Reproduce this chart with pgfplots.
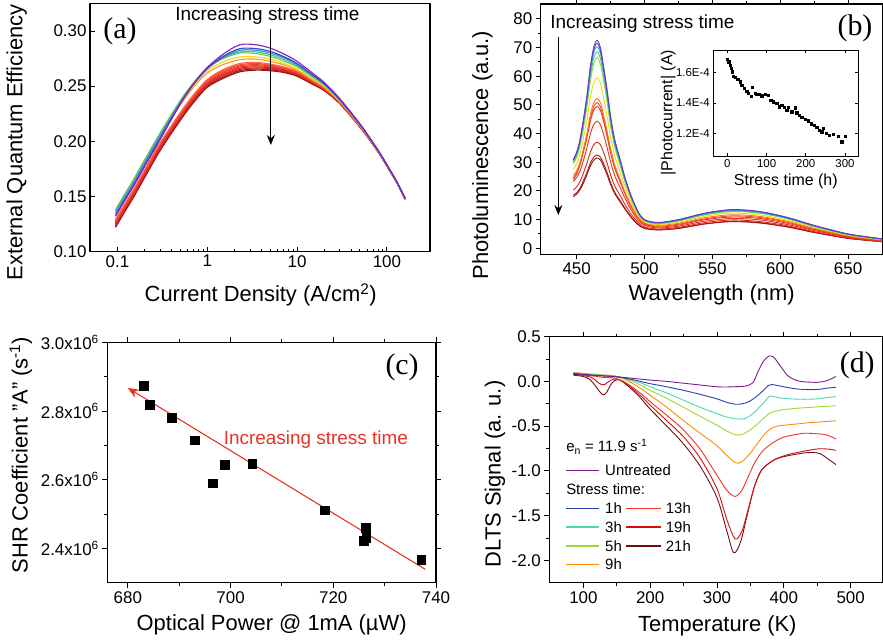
\documentclass[border=0pt]{standalone}
\usepackage{fontspec}
\setmainfont{Liberation Sans}
\newfontfamily\timesfont{Liberation Serif}
\usepackage{pgfplots}
\usepackage{pgfplotstable}
\pgfplotsset{compat=1.18}
\usetikzlibrary{arrows.meta}
\newcommand{\fs}[1]{\fontsize{#1}{#1}\selectfont}
% panel (a) colours
\definecolor{a1}{rgb}{0.55,0.12,0.75}
\definecolor{a2}{rgb}{0.15,0.30,0.78}
\definecolor{a3}{rgb}{0.20,0.55,0.85}
\definecolor{a4}{rgb}{0.30,0.75,0.60}
\definecolor{a5}{rgb}{0.45,0.80,0.25}
\definecolor{a6}{rgb}{0.95,0.85,0.10}
\definecolor{a7}{rgb}{1.00,0.60,0.10}
\definecolor{r0}{rgb}{1.00,0.38,0.28}
\definecolor{r1}{rgb}{0.96,0.30,0.20}
\definecolor{r2}{rgb}{0.93,0.25,0.18}
\definecolor{r3}{rgb}{0.90,0.20,0.15}
\definecolor{r4}{rgb}{0.86,0.17,0.13}
\definecolor{r5}{rgb}{0.80,0.14,0.12}
\definecolor{r6}{rgb}{0.70,0.10,0.10}
\definecolor{r7}{rgb}{0.55,0.08,0.08}
% panel (b) colours
\definecolor{b1}{rgb}{0.45,0.20,0.75}
\definecolor{b2}{rgb}{0.20,0.35,0.80}
\definecolor{b3}{rgb}{0.20,0.70,0.85}
\definecolor{b4}{rgb}{0.30,0.80,0.50}
\definecolor{b5}{rgb}{0.55,0.85,0.20}
\definecolor{b6}{rgb}{0.95,0.85,0.05}
\definecolor{b7}{rgb}{1.00,0.45,0.10}
\definecolor{b8}{rgb}{0.95,0.30,0.15}
\definecolor{b9}{rgb}{0.93,0.22,0.12}
\definecolor{b10}{rgb}{0.90,0.20,0.12}
\definecolor{b11}{rgb}{0.85,0.15,0.10}
\definecolor{b12}{rgb}{0.70,0.10,0.08}
\definecolor{b13}{rgb}{0.55,0.08,0.06}
% panel (d) colours
\definecolor{dU}{rgb}{0.50,0.10,0.55}
\definecolor{dA}{rgb}{0.15,0.25,0.70}
\definecolor{dB}{rgb}{0.30,0.85,0.65}
\definecolor{dC}{rgb}{0.60,0.85,0.20}
\definecolor{dD}{rgb}{1.00,0.55,0.00}
\definecolor{dE}{rgb}{0.95,0.20,0.15}
\definecolor{dF}{rgb}{0.85,0.05,0.05}
\definecolor{dG}{rgb}{0.45,0.05,0.05}
\definecolor{cred}{rgb}{0.90,0.20,0.15}

\pgfplotstableread{
J c1 c2 c3 c4 c5 c6 c7 r0 r1 r2 r3 r4 r5 r6 r7
0.095 .132 .133 .135 .137 .138 .138 .137 .129 .128 .127 .126 .125 .124 .123 .122
0.12 .146 .147 .149 .151 .152 .152 .151 .143 .142 .141 .140 .139 .138 .137 .136
0.15 .159 .160 .162 .164 .165 .165 .164 .156 .155 .154 .153 .152 .151 .150 .149
0.2 .177 .178 .180 .182 .183 .183 .182 .174 .173 .172 .171 .170 .169 .168 .167
0.3 .202 .203 .205 .207 .208 .207 .206 .199 .198 .197 .196 .195 .194 .193 .192
0.5 .234 .234 .235 .236 .237 .235 .233 .226 .225 .224 .223 .222 .221 .220 .219
0.7 .252 .2515 .252 .2525 .253 .251 .249 .242 .241 .240 .239 .238 .237 .236 .235
1 .267 .266 .266 .266 .2665 .264 .262 .256 .255 .254 .253 .252 .251 .250 .249
1.5 .279 .277 .276 .2755 .275 .272 .2695 .265 .2639 .2627 .2616 .2604 .2593 .2581 .257
2.3 .2875 .284 .2825 .281 .280 .2765 .274 .2705 .2694 .2684 .2673 .2662 .2652 .2641 .263
3.5 .2875 .284 .2825 .281 .2795 .2765 .2745 .2715 .2705 .2695 .2685 .2675 .2665 .2655 .2645
5 .2845 .2815 .280 .2785 .277 .2745 .2725 .270 .2691 .2683 .2674 .2666 .2657 .2648 .264
7 .2795 .277 .276 .2745 .273 .271 .2695 .2675 .2668 .2661 .2654 .2647 .2639 .2632 .2625
10 .2725 .2705 .2695 .2685 .2675 .2655 .2645 .2635 .2629 .2622 .2616 .2609 .2603 .2597 .259
15 .2615 .260 .2595 .2585 .258 .2565 .2555 .255 .2545 .254 .2535 .253 .2525 .252 .2515
20 .2535 .2525 .252 .2515 .251 .250 .2495 .2485 .2481 .2478 .2474 .2471 .2467 .2463 .246
30 .2385 .2378 .2375 .2373 .237 .2365 .236 .2355 .2353 .2351 .2349 .2347 .2344 .2342 .234
50 .216 .2155 .2153 .2152 .215 .2148 .2145 .214 .2139 .2137 .2136 .2134 .2133 .2132 .213
70 .199 .1987 .1985 .1984 .1983 .1982 .198 .1977 .1976 .1975 .1974 .1973 .1972 .1971 .197
85 .1885 .1882 .188 .188 .1879 .1878 .1877 .1875 .1874 .1874 .1873 .1872 .1872 .1871 .187
100 .179 .1787 .1786 .1785 .1785 .1784 .1783 .178 .1779 .1779 .1778 .1777 .1777 .1776 .1775
130 .163 .1628 .1627 .1627 .1627 .1626 .1626 .1625 .1624 .1624 .1623 .1622 .1622 .1621 .162
160 .148 .148 .148 .148 .148 .148 .148 .148 .1479 .1479 .1478 .1477 .1477 .1476 .1475
}\tabA

\pgfplotstableread{
L b1 b2 b3 b4 b5 b6 b7 b8 b9 b10 b11 b12 b13
447.5 31 30.8 30.5 30.1 29.4 27.6 25.4 24.6 24.0 23.3 20.3 18.6 18.0
450 33.5 33.3 33.0 32.4 31.7 29.5 27.0 26.3 25.8 24.7 21.4 19.4 18.9
452.5 38 37.7 37.3 36.6 35.7 33.0 30.0 29.5 29.0 27.0 23.3 21.0 20.4
455 45 44.5 44.0 43.1 41.9 38.5 34.7 34.2 33.6 30.7 26.3 23.6 22.8
457.5 53 52.4 51.7 50.5 49.1 44.7 39.9 39.2 38.4 34.9 29.6 26.4 25.6
460 63 62.2 61.2 59.8 58.0 52.3 46.3 45.2 44.1 39.7 33.4 29.6 28.6
462.5 70 69.0 68.0 66.2 64.3 57.6 50.7 49.3 48.1 43.1 36.0 31.7 30.7
465 72.5 71.5 70.3 68.5 66.5 59.5 52.3 50.8 49.5 44.3 37.0 32.5 31.5
467.5 70 69.0 67.9 66.2 64.2 57.6 50.8 49.3 48.1 43.1 36.1 31.8 30.8
470 63 62.2 61.2 59.7 58.0 52.2 46.2 44.9 43.9 39.4 33.2 29.4 28.4
472.5 55 54.3 53.5 52.2 50.7 45.8 40.7 39.7 38.8 35.0 29.6 26.3 25.5
475 46 45.4 44.9 43.8 42.6 38.8 34.7 33.9 33.2 30.1 25.6 23.0 22.3
478 38 37.6 37.1 36.3 35.4 32.3 29.1 28.5 27.9 25.4 21.8 19.6 19.1
482 31 30.7 30.3 29.6 29.0 26.6 24.1 23.6 23.1 21.2 18.4 16.7 16.2
486 24 23.8 23.5 23.0 22.5 20.9 19.2 18.8 18.5 17.1 15.0 13.7 13.4
490 18.5 18.3 18.1 17.7 17.4 16.3 15.1 14.8 14.5 13.5 12.0 11.1 10.8
495 13 12.9 12.8 12.5 12.3 11.7 11.0 10.8 10.6 9.9 9.1 8.5 8.3
500 10 9.9 9.8 9.7 9.5 9.2 8.8 8.6 8.4 8.0 7.4 7.1 6.9
510 9 8.9 8.8 8.7 8.6 8.3 8.0 7.7 7.4 7.1 6.7 6.5 6.4
525 10 9.9 9.8 9.6 9.5 9.1 8.7 8.4 8.1 7.7 7.3 7.0 6.9
545 12.3 12.2 12.05 11.8 11.7 11.2 10.7 10.3 10.0 9.5 9.0 8.6 8.5
565 13.5 13.4 13.2 13.0 12.8 12.3 11.7 11.3 10.9 10.4 9.9 9.45 9.3
585 12.8 12.7 12.5 12.3 12.2 11.6 11.1 10.75 10.4 9.9 9.3 8.96 8.8
605 10.8 10.7 10.6 10.4 10.3 9.8 9.4 9.1 8.75 8.3 7.9 7.56 7.45
625 8 7.9 7.8 7.7 7.6 7.3 7.0 6.7 6.5 6.2 5.8 5.6 5.5
650 5 4.95 4.9 4.8 4.75 4.55 4.35 4.2 4.05 3.85 3.65 3.5 3.45
675 3.3 3.27 3.2 3.2 3.1 3.0 2.9 2.8 2.7 2.5 2.4 2.3 2.3
}\tabB

\pgfplotsset{
  myaxis/.style={
    scale only axis, anchor=south west, clip=false,
    axis line style={line width=1.1pt},
    every tick/.style={line width=0.9pt, black},
    major tick length=5pt, minor tick length=3pt,
    tick align=outside,
    ticklabel style={font=\fs{17}},
    label style={font=\fs{22}},
    /pgf/number format/assume math mode=true,
  },
  crv/.style={line width=0.9pt, smooth},
  crva/.style={line width=1.15pt, smooth},
}

\begin{document}
\begin{tikzpicture}
\path[use as bounding box] (0,0) rectangle (883bp,641bp);

% ---------------- (a)
\begin{axis}[myaxis, at={(90bp,389.3bp)}, width=340bp, height=248.3bp,
  xmode=log, xmin=0.0494, xmax=302, ymin=0.10, ymax=0.325,
  xtick={0.1,1,10,100}, xticklabels={0.1,1,10,100},
  ytick={0.10,0.15,0.20,0.25,0.30}, yticklabels={0.10,0.15,0.20,0.25,0.30},
  tick align=inside, tick pos=left,
  xlabel={Current Density (A/cm\textsuperscript{2})},
  ylabel={External Quantum Efficiency},
  xlabel style={at={(axis description cs:0.502,-0.174)},anchor=center},
  ylabel style={at={(axis description cs:-0.2156,0.44)},anchor=center},
]
\addplot[crva, r7] table[x=J,y=r7] {\tabA};
\addplot[crva, r6] table[x=J,y=r6] {\tabA};
\addplot[crva, r5] table[x=J,y=r5] {\tabA};
\addplot[crva, r4] table[x=J,y=r4] {\tabA};
\addplot[crva, r3] table[x=J,y=r3] {\tabA};
\addplot[crva, r2] table[x=J,y=r2] {\tabA};
\addplot[crva, r1] table[x=J,y=r1] {\tabA};
\addplot[crva, r0] table[x=J,y=r0] {\tabA};
\addplot[crva, a7] table[x=J,y=c7] {\tabA};
\addplot[crva, a6] table[x=J,y=c6] {\tabA};
\addplot[crva, a5] table[x=J,y=c5] {\tabA};
\addplot[crva, a4] table[x=J,y=c4] {\tabA};
\addplot[crva, a3] table[x=J,y=c3] {\tabA};
\addplot[crva, a2] table[x=J,y=c2] {\tabA};
\addplot[crva, a1] table[x=J,y=c1] {\tabA};
\draw[line width=1.3pt, -{Stealth[length=10pt,width=8pt]}] (axis cs:5.1,0.3017) -- (axis cs:5.1,0.1967);
\node[font=\fs{19}] at (axis cs:4.68,0.3138) {Increasing stress time};
\node[font=\timesfont\fs{30}] at (axis cs:0.1066,0.2993) {(a)};
\end{axis}

% ---------------- (b)
\begin{axis}[myaxis, at={(540.7bp,386.7bp)}, width=342bp, height=250.3bp,
  xmin=423.5, xmax=675.5, ymin=-2.1, ymax=85.2,
  xtick={450,500,550,600,650}, minor x tick num=1,
  ytick={0,10,20,30,40,50,60,70,80}, minor y tick num=1,
  xlabel={Wavelength (nm)},
  ylabel={Photoluminescence (a.u.)},
  xlabel style={at={(axis description cs:0.5,-0.163)},anchor=center},
  ylabel style={at={(axis description cs:-0.170,0.397)},anchor=center},
]
\addplot[crv, b13] table[x=L,y=b13] {\tabB};
\addplot[crv, b12] table[x=L,y=b12] {\tabB};
\addplot[crv, b11] table[x=L,y=b11] {\tabB};
\addplot[crv, b10] table[x=L,y=b10] {\tabB};
\addplot[crv, b9] table[x=L,y=b9] {\tabB};
\addplot[crv, b8] table[x=L,y=b8] {\tabB};
\addplot[crv, b7] table[x=L,y=b7] {\tabB};
\addplot[crv, b6] table[x=L,y=b6] {\tabB};
\addplot[crv, b5] table[x=L,y=b5] {\tabB};
\addplot[crv, b4] table[x=L,y=b4] {\tabB};
\addplot[crv, b3] table[x=L,y=b3] {\tabB};
\addplot[crv, b2] table[x=L,y=b2] {\tabB};
\addplot[crv, b1] table[x=L,y=b1] {\tabB};
\draw[line width=1.3pt, -{Stealth[length=10pt,width=8pt]}] (axis cs:436.5,73.8) -- (axis cs:436.5,11.6);
\node[font=\fs{19}] at (axis cs:498.4,78.5) {Increasing stress time};
\node[font=\timesfont\fs{30}] at (axis cs:655.1,76.7) {(b)};
\end{axis}

% ---------------- inset of (b)
\begin{axis}[myaxis, at={(713.3bp,485bp)}, width=145bp, height=106bp,
  xmin=-36, xmax=334, ymin=1.05, ymax=1.75,
  axis line style={line width=0.8pt},
  every tick/.style={line width=0.7pt, black},
  major tick length=3pt, minor tick length=2pt,
  tick align=inside,
  xtick={0,100,200,300}, ytick={1.2,1.4,1.6},
  yticklabels={1.2E-4,1.4E-4,1.6E-4},
  ticklabel style={font=\fs{11.5}},
  label style={font=\fs{16}},
  xlabel={Stress time (h)},
  ylabel={|Photocurrent| (A)},
  xlabel style={at={(axis description cs:0.5,-0.242)},anchor=center},
  ylabel style={at={(axis description cs:-0.31,0.41)},anchor=center},
]
\addplot[only marks, mark=square*, mark size=1.2pt, black] coordinates {
(0,1.688) (3.4,1.673) (6.8,1.651) (9.3,1.629) (11.9,1.607) (15.3,1.578) (19.5,1.569)
(26.3,1.556) (32.3,1.541) (36.5,1.518) (42.5,1.496) (49.3,1.479) (53.5,1.464) (60.3,1.446)
(63.7,1.503) (70.5,1.464) (74.8,1.457) (81.6,1.459) (87.5,1.448) (96,1.459) (104.5,1.453)
(110.5,1.420) (117.3,1.409) (125.8,1.398) (132.6,1.376) (138.5,1.387) (144.5,1.371)
(151.3,1.354) (155.5,1.371) (164,1.343) (173.4,1.369) (176.8,1.336) (183.6,1.321)
(189.5,1.305) (198,1.292) (206.5,1.284) (213.3,1.262) (221,1.255) (227.8,1.240)
(234.6,1.222) (240.5,1.211) (244.8,1.233) (251.5,1.200) (260,1.189) (270.3,1.193)
(283,1.182) (291.5,1.144) (300,1.182)
};
\end{axis}

% ---------------- (c)
\begin{axis}[myaxis, at={(107.3bp,58.3bp)}, width=328.7bp, height=240.4bp,
  xmin=676, xmax=740, ymin=2.3, ymax=3.0,
  xtick={680,700,720,740}, minor x tick num=1,
  ytick={2.4,2.6,2.8,3.0}, minor y tick num=1,
  yticklabels={2.4x10\textsuperscript{6},2.6x10\textsuperscript{6},2.8x10\textsuperscript{6},3.0x10\textsuperscript{6}},
  xlabel={Optical Power @ 1mA (µW)},
  ylabel={SHR Coefficient "A" (s\textsuperscript{-1})},
  xlabel style={at={(axis description cs:0.5,-0.176)},anchor=center},
  ylabel style={at={(axis description cs:-0.263,0.531)},anchor=center},
]
\addplot[cred, line width=1.1pt, -{Stealth[length=11pt,width=9pt]}] coordinates {(737.9,2.339) (680.0,2.867)};
\addplot[only marks, mark=square*, mark size=4.4pt, black] coordinates {
(683.1,2.873) (684.2,2.818) (688.6,2.780) (693.0,2.715) (696.5,2.590) (698.9,2.643)
(704.2,2.647) (718.4,2.511) (726.3,2.461) (726.4,2.431) (725.9,2.422) (737.1,2.368)
};
\node[font=\fs{19}, text=cred] at (axis cs:716.6,2.717) {Increasing stress time};
\node[font=\timesfont\fs{30}] at (axis cs:733.4,2.927) {(c)};
\end{axis}

% ---------------- (d)
\begin{axis}[myaxis, at={(549.3bp,58.3bp)}, width=333.4bp, height=246bp,
  xmin=49, xmax=548, ymin=-2.25, ymax=0.5,
  xtick={100,200,300,400,500}, minor x tick num=1,
  ytick={-2,-1.5,-1,-0.5,0,0.5}, minor y tick num=1,
  yticklabel style={/pgf/number format/.cd, fixed, fixed zerofill, precision=1},
  xlabel={Temperature (K)},
  ylabel={DLTS Signal (a. u.)},
  xlabel style={at={(axis description cs:0.504,-0.176)},anchor=center},
  ylabel style={at={(axis description cs:-0.163,0.442)},anchor=center},
]
\addplot[crv, dG] coordinates {(85,0.07)(100,0.055)(110,0.02)(118,-0.05)(125,-0.12)(130,-0.15)(135,-0.12)(140,-0.05)(145,0.0)(152,0.02)(160,-0.01)(180,-0.14)(200,-0.31)(225,-0.5)(250,-0.7)(275,-0.95)(300,-1.3)(315,-1.68)(325,-1.915)(335,-1.8)(345,-1.5)(355,-1.2)(365,-1.01)(375,-0.93)(385,-0.88)(395,-0.85)(410,-0.825)(430,-0.8)(445,-0.795)(455,-0.81)(465,-0.86)(478,-0.93)};
\addplot[crv, dF] coordinates {(85,0.08)(100,0.065)(112,0.045)(120,0.0)(127,-0.035)(132,-0.035)(138,0.0)(145,0.025)(150,0.025)(160,0.0)(180,-0.12)(200,-0.265)(225,-0.44)(250,-0.62)(275,-0.86)(300,-1.2)(315,-1.55)(327,-1.76)(337,-1.68)(347,-1.42)(357,-1.15)(367,-0.99)(377,-0.92)(387,-0.87)(397,-0.84)(410,-0.81)(430,-0.78)(450,-0.755)(465,-0.755)(478,-0.77)};
\addplot[crv, dE] coordinates {(85,0.08)(100,0.07)(115,0.06)(130,0.045)(145,0.04)(160,0.0)(180,-0.1)(200,-0.227)(225,-0.38)(250,-0.544)(275,-0.76)(300,-1.05)(315,-1.22)(327,-1.285)(337,-1.22)(347,-1.06)(357,-0.9)(367,-0.79)(377,-0.72)(387,-0.67)(397,-0.63)(410,-0.605)(430,-0.58)(450,-0.585)(465,-0.6)(478,-0.645)};
\addplot[crv, dD] coordinates {(85,0.1)(100,0.09)(115,0.08)(130,0.072)(145,0.065)(160,0.03)(180,-0.05)(200,-0.155)(225,-0.29)(250,-0.44)(275,-0.58)(300,-0.72)(315,-0.83)(325,-0.895)(332,-0.915)(340,-0.88)(350,-0.8)(360,-0.7)(370,-0.6)(380,-0.53)(390,-0.5)(400,-0.49)(420,-0.475)(440,-0.46)(460,-0.45)(478,-0.44)};
\addplot[crv, dC] coordinates {(85,0.095)(100,0.085)(115,0.075)(130,0.068)(145,0.06)(160,0.035)(180,-0.02)(200,-0.1)(225,-0.19)(250,-0.29)(275,-0.39)(300,-0.49)(315,-0.555)(325,-0.59)(332,-0.6)(340,-0.585)(350,-0.54)(360,-0.48)(370,-0.41)(380,-0.35)(390,-0.33)(400,-0.315)(420,-0.3)(440,-0.29)(460,-0.28)(478,-0.272)};
\addplot[crv, dB] coordinates {(85,0.095)(100,0.085)(115,0.075)(130,0.068)(145,0.06)(160,0.04)(180,0.0)(200,-0.06)(225,-0.13)(250,-0.21)(275,-0.29)(300,-0.36)(315,-0.4)(330,-0.42)(342,-0.415)(352,-0.37)(362,-0.3)(372,-0.22)(378,-0.165)(385,-0.17)(395,-0.185)(410,-0.195)(430,-0.2)(450,-0.195)(465,-0.18)(478,-0.17)};
\addplot[crv, dA] coordinates {(85,0.09)(100,0.08)(115,0.07)(130,0.063)(145,0.055)(160,0.04)(180,0.01)(200,-0.025)(225,-0.06)(250,-0.10)(275,-0.145)(300,-0.195)(315,-0.235)(328,-0.255)(338,-0.25)(348,-0.225)(358,-0.175)(368,-0.11)(377,-0.045)(382,-0.035)(390,-0.045)(400,-0.06)(415,-0.08)(430,-0.09)(450,-0.09)(465,-0.075)(478,-0.065)};
\addplot[crv, dU] coordinates {(85,0.08)(100,0.075)(115,0.068)(130,0.06)(145,0.055)(160,0.045)(180,0.03)(200,0.015)(225,0.0)(250,-0.02)(275,-0.04)(300,-0.06)(315,-0.062)(330,-0.058)(340,-0.055)(348,-0.04)(355,0.0)(362,0.12)(370,0.23)(378,0.285)(385,0.27)(392,0.2)(398,0.14)(405,0.07)(413,0.03)(425,0.0)(450,-0.01)(465,0.01)(478,0.055)};
% legend
\node[anchor=west, inner sep=0pt, font=\fs{15}] at (axis cs:74.1,-0.731) {e\textsubscript{n} = 11.9 s\textsuperscript{-1}};
\draw[dU, line width=1.1pt] (axis cs:74.1,-0.992) -- (axis cs:123.5,-0.992);
\node[anchor=west, inner sep=0pt, font=\fs{15}] at (axis cs:132.4,-0.992) {Untreated};
\node[anchor=west, inner sep=0pt, font=\fs{15}] at (axis cs:74.1,-1.208) {Stress time:};
\draw[dA, line width=1.2pt] (axis cs:74.1,-1.42) -- (axis cs:123.5,-1.42);
\node[anchor=west, inner sep=0pt, font=\fs{15}] at (axis cs:132.4,-1.42) {1h};
\draw[dB, line width=1.1pt] (axis cs:74.1,-1.627) -- (axis cs:123.5,-1.627);
\node[anchor=west, inner sep=0pt, font=\fs{15}] at (axis cs:132.4,-1.627) {3h};
\draw[dC, line width=1.1pt] (axis cs:74.1,-1.840) -- (axis cs:123.5,-1.840);
\node[anchor=west, inner sep=0pt, font=\fs{15}] at (axis cs:132.4,-1.840) {5h};
\draw[dD, line width=1.1pt] (axis cs:74.1,-2.048) -- (axis cs:123.5,-2.048);
\node[anchor=west, inner sep=0pt, font=\fs{15}] at (axis cs:132.4,-2.048) {9h};
\draw[dE, line width=1.2pt] (axis cs:163.4,-1.42) -- (axis cs:215.7,-1.42);
\node[anchor=west, inner sep=0pt, font=\fs{15}] at (axis cs:223.2,-1.42) {13h};
\draw[dF, line width=1.1pt] (axis cs:163.4,-1.627) -- (axis cs:215.7,-1.627);
\node[anchor=west, inner sep=0pt, font=\fs{15}] at (axis cs:223.2,-1.627) {19h};
\draw[dG, line width=1.1pt] (axis cs:163.4,-1.840) -- (axis cs:215.7,-1.840);
\node[anchor=west, inner sep=0pt, font=\fs{15}] at (axis cs:223.2,-1.840) {21h};
\node[font=\timesfont\fs{30}] at (axis cs:509.9,0.183) {(d)};
\end{axis}
\end{tikzpicture}
\end{document}
